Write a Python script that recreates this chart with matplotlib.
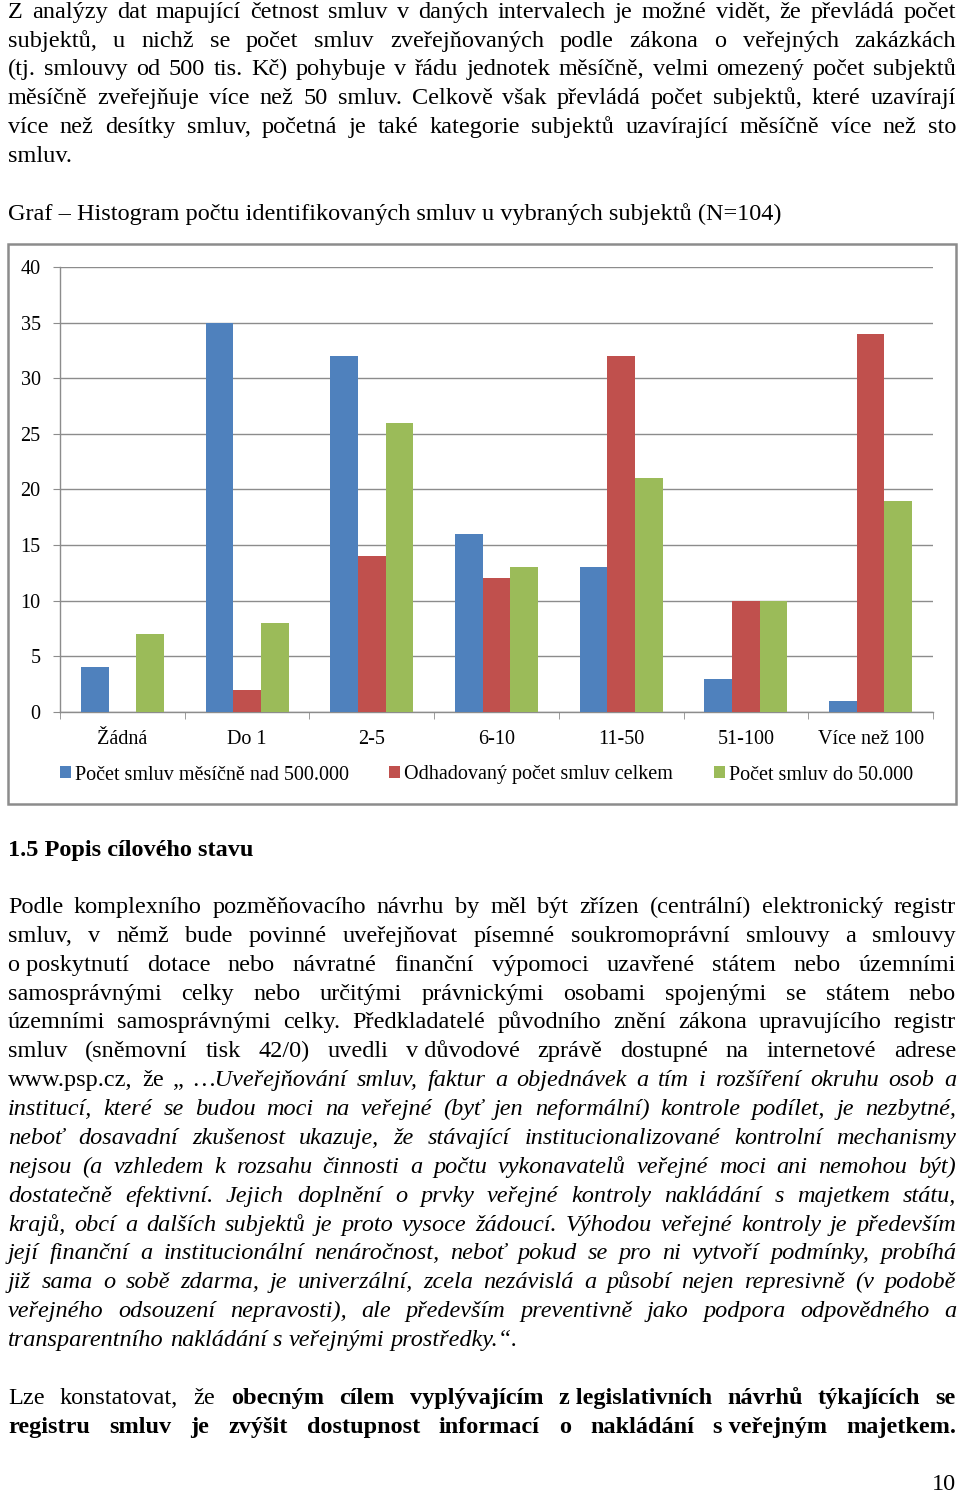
import matplotlib
matplotlib.use("Agg")
import matplotlib.pyplot as plt
from matplotlib.patches import Rectangle, Patch
import numpy as np

# ---- chart data ----
categories = ["Žádná", "Do 1", "2-5", "6-10", "11-50", "51-100", "Více než 100"]
nad_500k = [4, 35, 32, 16, 13, 3, 1]
celkem = [0, 2, 14, 12, 32, 10, 34]
do_50k = [7, 8, 26, 13, 21, 10, 19]
series_labels = ["Počet smluv měsíčně nad 500.000",
                 "Odhadovaný počet smluv celkem",
                 "Počet smluv do 50.000"]
y_ticks = [0, 5, 10, 15, 20, 25, 30, 35, 40]

# ---- page text (style: r = regular, i = italic, b = bold) ----
para1 = [
    [("Z analýzy dat mapující četnost smluv v daných intervalech je možné vidět, že převládá počet", "r")],
    [("subjektů, u nichž se počet smluv zveřejňovaných podle zákona o veřejných zakázkách", "r")],
    [("(tj. smlouvy od 500 tis. Kč) pohybuje v řádu jednotek měsíčně, velmi omezený počet subjektů", "r")],
    [("měsíčně zveřejňuje více než 50 smluv. Celkově však převládá počet subjektů, které uzavírají", "r")],
    [("více než desítky smluv, početná je také kategorie subjektů uzavírající měsíčně více než sto", "r")],
    [("smluv.", "r")],
]
caption = "Graf – Histogram počtu identifikovaných smluv u vybraných subjektů (N=104)"
heading = "1.5 Popis cílového stavu"
para2 = [
    [("Podle komplexního pozměňovacího návrhu by měl být zřízen (centrální) elektronický registr", "r")],
    [("smluv, v němž bude povinné uveřejňovat písemné soukromoprávní smlouvy a smlouvy", "r")],
    [("o\u00a0poskytnutí dotace nebo návratné finanční výpomoci uzavřené státem nebo územními", "r")],
    [("samosprávnými celky nebo určitými právnickými osobami spojenými se státem nebo", "r")],
    [("územními samosprávnými celky. Předkladatelé původního znění zákona upravujícího registr", "r")],
    [("smluv (sněmovní tisk 42/0) uvedli v\u00a0důvodové zprávě dostupné na internetové adrese", "r")],
    [("www.psp.cz, že „", "r"), ("…Uveřejňování smluv, faktur a objednávek a tím i rozšíření okruhu osob a", "i")],
    [("institucí, které se budou moci na veřejné (byť jen neformální) kontrole podílet, je nezbytné,", "i")],
    [("neboť dosavadní zkušenost ukazuje, že stávající institucionalizované kontrolní mechanismy", "i")],
    [("nejsou (a vzhledem k rozsahu činnosti a počtu vykonavatelů veřejné moci ani nemohou být)", "i")],
    [("dostatečně efektivní. Jejich doplnění o prvky veřejné kontroly nakládání s majetkem státu,", "i")],
    [("krajů, obcí a dalších subjektů je proto vysoce žádoucí. Výhodou veřejné kontroly je především", "i")],
    [("její finanční a institucionální nenáročnost, neboť pokud se pro ni vytvoří podmínky, probíhá", "i")],
    [("již sama o sobě zdarma, je univerzální, zcela nezávislá a působí nejen represivně (v podobě", "i")],
    [("veřejného odsouzení nepravosti), ale především preventivně jako podpora odpovědného a", "i")],
    [("transparentního nakládání s veřejnými prostředky.“.", "i")],
]
para3 = [
    [("Lze konstatovat, že", "r"), ("obecným cílem vyplývajícím z\u00a0legislativních návrhů týkajících se", "b")],
    [("registru smluv je zvýšit dostupnost informací o nakládání s\u00a0veřejným majetkem.", "b")],
]

W, H = 960, 1494
FONT = "Liberation Serif"
FS = 17.5

fig = plt.figure(figsize=(W / 100, H / 100), dpi=100)
fig.patch.set_facecolor("white")
renderer = fig.canvas.get_renderer()


def fy(py):
    return 1 - py / H


def style_kw(st):
    if st == "i":
        return {"style": "italic"}
    if st == "b":
        return {"weight": "bold"}
    return {}


tmp1 = fig.text(0, 0, "a a", fontsize=FS, family=FONT)
tmp2 = fig.text(0, 0, "aa", fontsize=FS, family=FONT)
space_w = tmp1.get_window_extent(renderer).width - tmp2.get_window_extent(renderer).width
tmp1.remove()
tmp2.remove()

LEFT, RIGHT = 8, 956


def put_line(segs, base_y, justify=True):
    words = []
    for txt, st in segs:
        for w in txt.split(" "):
            if w:
                words.append((w, st))
    arts = [fig.text(0, fy(base_y), w, fontsize=FS, family=FONT, va="baseline",
                     ha="left", **style_kw(st)) for w, st in words]
    widths = [a.get_window_extent(renderer).width for a in arts]
    if justify and len(arts) > 1:
        gap = (RIGHT - LEFT - sum(widths)) / (len(arts) - 1)
        gap = max(gap, 2)
    else:
        gap = space_w
    x = LEFT
    for a, w in zip(arts, widths):
        a.set_x(x / W)
        x += w + gap


def put_para(lines, first_base, step):
    for i, segs in enumerate(lines):
        put_line(segs, first_base + i * step, justify=(i < len(lines) - 1))


put_para(para1, 18, 28.7)
fig.text(LEFT / W, fy(220), caption, fontsize=FS, family=FONT, va="baseline")
fig.text(LEFT / W, fy(856), heading, fontsize=FS, family=FONT, weight="bold", va="baseline")
put_para(para2, 913, 28.87)
put_line(para3[0], 1404, True)
put_line(para3[1], 1433, True)
fig.text(RIGHT / W, fy(1490), "10", fontsize=FS, family=FONT, ha="right", va="baseline")

# ---- chart ----
fig.patches.append(Rectangle((8 / W, fy(804)), (956 - 8) / W, (804 - 244) / H,
                             transform=fig.transFigure, fill=False,
                             edgecolor="#8c8c8c", linewidth=1.8))

ax = fig.add_axes([60 / W, fy(712), (933 - 60) / W, (712 - 267) / H])
colors = ["#4F81BD", "#C0504D", "#9BBB59"]
x = np.arange(len(categories))
bw = 0.222
for k, (vals, col, lab) in enumerate(zip([nad_500k, celkem, do_50k], colors, series_labels)):
    ax.bar(x + (k - 1) * bw, vals, width=bw, color=col, label=lab, zorder=3)

gray = "#8c8c8c"
ax.set_xlim(-0.5, len(categories) - 0.5)
ax.set_ylim(0, 40)
ax.set_yticks(y_ticks)
ax.set_yticklabels([str(v) for v in y_ticks], fontsize=14.5, family=FONT)
ax.yaxis.grid(True, color=gray, linewidth=1, zorder=0)
ax.set_xticks(x)
ax.set_xticklabels(categories, fontsize=14.5, family=FONT)
ax.set_xticks(np.arange(len(categories) + 1) - 0.5, minor=True)
ax.tick_params(axis="x", which="major", length=0, pad=13)
ax.tick_params(axis="x", which="minor", length=5, color=gray, direction="out")
ax.tick_params(axis="y", length=5, color=gray, pad=9)
for s in ["top", "right"]:
    ax.spines[s].set_visible(False)
for s in ["left", "bottom"]:
    ax.spines[s].set_color(gray)
    ax.spines[s].set_linewidth(1)
ax.set_axisbelow(True)

handles = [Patch(facecolor=c) for c in colors]
fig.legend(handles, series_labels, loc="center left",
           bbox_to_anchor=(60 / W, fy(775)), ncol=3, frameon=False,
           prop={"family": FONT, "size": 14.5}, handlelength=0.55, handleheight=0.55,
           handletextpad=0.2, columnspacing=2.0, borderaxespad=0, borderpad=0)

fig.savefig("out.png", dpi=100)
